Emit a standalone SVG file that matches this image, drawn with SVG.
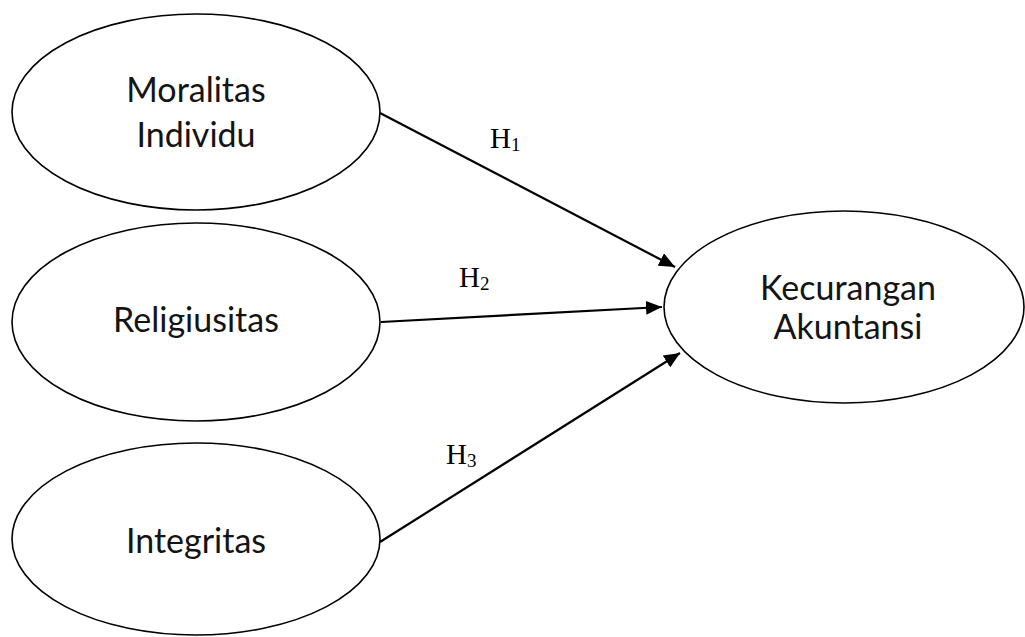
<svg xmlns="http://www.w3.org/2000/svg" width="1025" height="637" viewBox="0 0 1025 637">
<style>
.node ellipse{fill:#fff;stroke:#000;stroke-width:1.6}
.lbl{font-family:Lato,"Open Sans",sans-serif;font-size:34px;fill:#141414;text-anchor:middle}
.h{font-family:"Liberation Serif","Times New Roman",serif;font-size:29px;fill:#000}
.h tspan.s{font-size:19px}
.conn line{stroke:#000;stroke-width:2.2}
</style>
<defs>
<marker id="ah" markerUnits="userSpaceOnUse" markerWidth="16" markerHeight="14" refX="16" refY="7" orient="auto" viewBox="0 0 16 14">
<path d="M0,0 L16,7 L0,14 z" fill="#000"/>
</marker>
</defs>
<rect width="1025" height="637" fill="#fff"/>
<g id="moralitas" class="node">
<ellipse cx="196" cy="112" rx="184" ry="98"/>
<text class="lbl" x="196" y="102">Moralitas</text>
<text class="lbl" x="196" y="147">Individu</text>
</g>
<g id="religiusitas" class="node">
<ellipse cx="196" cy="322" rx="184" ry="99"/>
<text class="lbl" x="196" y="332">Religiusitas</text>
</g>
<g id="integritas" class="node">
<ellipse cx="196" cy="539" rx="184" ry="96"/>
<text class="lbl" x="196" y="553">Integritas</text>
</g>
<g id="kecurangan" class="node">
<ellipse cx="844" cy="307" rx="180" ry="96"/>
<text class="lbl" x="848" y="300">Kecurangan</text>
<text class="lbl" x="848" y="339">Akuntansi</text>
</g>
<g id="connectors" class="conn">
<line x1="380" y1="113" x2="675" y2="267" marker-end="url(#ah)"/>
<line x1="381" y1="322" x2="662" y2="307" marker-end="url(#ah)"/>
<line x1="380" y1="542" x2="680" y2="353" marker-end="url(#ah)"/>
</g>
<g id="labels">
<text class="h" x="490" y="148">H<tspan class="s" dy="3">1</tspan></text>
<text class="h" x="459" y="287">H<tspan class="s" dy="3">2</tspan></text>
<text class="h" x="446" y="464">H<tspan class="s" dy="3">3</tspan></text>
</g>
</svg>
